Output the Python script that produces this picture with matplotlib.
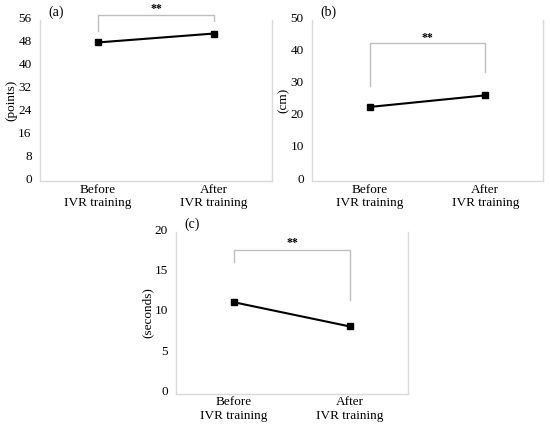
import matplotlib
matplotlib.use('Agg')
import matplotlib.pyplot as plt
import matplotlib.transforms as mtransforms

plt.rcParams['font.family'] = ['Liberation Serif', 'DejaVu Serif']

categories = ['Before\nIVR training', 'After\nIVR training']

# panel values
points_vals = [48.2, 51.3]
cm_vals = [23.0, 26.6]
seconds_vals = [11.3, 8.3]

# y axes
points_ticks = [0, 8, 16, 24, 32, 40, 48, 56]
cm_ticks = [0, 10, 20, 30, 40, 50]
seconds_ticks = [0, 5, 10, 15, 20]

# significance brackets: (left end, top, right end, star y)
points_bracket = [52.1, 57.8, 55.7, 59.8]
cm_bracket = [29.5, 42.9, 33.9, 44.5]
seconds_bracket = [16.3, 17.8, 11.6, 18.6]

SPINE = '#d9d9d9'
BRACKET = '#bfbfbf'


def draw_panel(ax, values, ticks, ylabel, letter, bracket):
    x = list(range(len(values)))
    ax.plot(x, values, color='black', lw=1.5, marker='s', ms=4.5)
    ax.set_xlim(-0.5, 1.5)
    ax.set_ylim(ticks[0], ticks[-1])
    ax.set_yticks(ticks)
    ax.set_xticks(x)
    ax.set_xticklabels(categories, fontsize=8.3, linespacing=1.15)
    ax.set_ylabel(ylabel, fontsize=9.5, labelpad=0.5)
    ax.tick_params(length=0, pad=6, labelsize=9.5)
    ax.tick_params(axis='x', pad=2)
    for side in ['left', 'bottom', 'right']:
        ax.spines[side].set_color(SPINE)
        ax.spines[side].set_linewidth(1.0)
    ax.spines['top'].set_visible(False)

    # lift the y labels a little, like the original
    offset = mtransforms.ScaledTranslation(0, 3 / 100, ax.figure.dpi_scale_trans)
    for lab in ax.get_yticklabels():
        lab.set_transform(lab.get_transform() + offset)

    left, top, right, star = bracket
    ax.plot([0, 0, 1, 1], [left, top, top, right], color=BRACKET, lw=1.0, clip_on=False)
    ax.text(0.5, star, '**', ha='center', va='center', fontsize=8.5, fontweight='bold')
    ax.text(0.07, 1.05, letter, transform=ax.transAxes, ha='center', va='center', fontsize=10)


fig = plt.figure(figsize=(5.5, 4.24), dpi=100)
ax_a = fig.add_axes([0.0727, 0.5731, 0.4218, 0.3797])
ax_b = fig.add_axes([0.5673, 0.5731, 0.42, 0.3797])
ax_c = fig.add_axes([0.32, 0.0719, 0.4218, 0.3809])

draw_panel(ax_a, points_vals, points_ticks, '(points)', '(a)', points_bracket)
draw_panel(ax_b, cm_vals, cm_ticks, '(cm)', '(b)', cm_bracket)
draw_panel(ax_c, seconds_vals, seconds_ticks, '(seconds)', '(c)', seconds_bracket)

fig.savefig('out.png', dpi=100, facecolor='white')
